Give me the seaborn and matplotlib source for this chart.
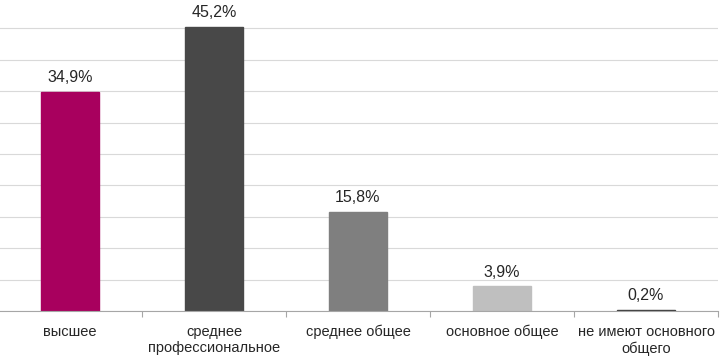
import numpy as np
import pandas as pd
import matplotlib
matplotlib.use("Agg")
import matplotlib.pyplot as plt
import seaborn as sns
from matplotlib.ticker import MultipleLocator, FixedLocator

CATEGORIES = [
    "высшее",
    "среднее\nпрофессиональное",
    "среднее общее",
    "основное общее",
    "не имеют основного\nобщего",
]
VALUES = [34.9, 45.2, 15.8, 3.9, 0.2]
LABELS = ["34,9%", "45,2%", "15,8%", "3,9%", "0,2%"]
COLORS = ["#A8005E", "#484848", "#7F7F7F", "#BFBFBF", "#404040"]

sns.set_theme(style="white")
plt.rcParams["font.family"] = ["Liberation Sans", "DejaVu Sans"]

df = pd.DataFrame({"cat": CATEGORIES, "value": VALUES})

fig = plt.figure(figsize=(7.2, 3.6), dpi=100)
ax = fig.add_axes([-2 / 720, 1 - 311 / 360, 720 / 720, 311 / 360])

sns.barplot(
    data=df,
    x="cat",
    y="value",
    hue="cat",
    palette=COLORS,
    saturation=1,
    legend=False,
    width=0.4,
    ax=ax,
    zorder=3,
)

for patch, color in zip(ax.patches, COLORS):
    patch.set_edgecolor(color)
    patch.set_linewidth(1.0)

for container, text in zip(ax.containers, LABELS):
    ax.bar_label(container, labels=[text], padding=5, fontsize=11.5, color="#262626")

ax.set_ylim(0, 49.5)
ax.set_xlim(-0.5, 4.5)
ax.yaxis.set_major_locator(MultipleLocator(5))
ax.grid(axis="y", color="#D9D9D9", linewidth=0.8, zorder=0)
ax.set_yticklabels([])
ax.tick_params(axis="y", length=0)

ax.xaxis.set_minor_locator(FixedLocator(np.arange(0.5, 5, 1)))
ax.tick_params(axis="x", which="major", length=0, pad=10, labelsize=10.5, labelcolor="#262626")
ax.tick_params(axis="x", which="minor", length=4, color="#A6A6A6", width=0.8, bottom=True)
ax.set_xlabel("")
ax.set_ylabel("")

for side in ["top", "left", "right"]:
    ax.spines[side].set_visible(False)
ax.spines["bottom"].set_color("#A6A6A6")
ax.spines["bottom"].set_linewidth(0.8)
ax.spines["bottom"].set_zorder(4)

fig.savefig("out.png", dpi=100)
